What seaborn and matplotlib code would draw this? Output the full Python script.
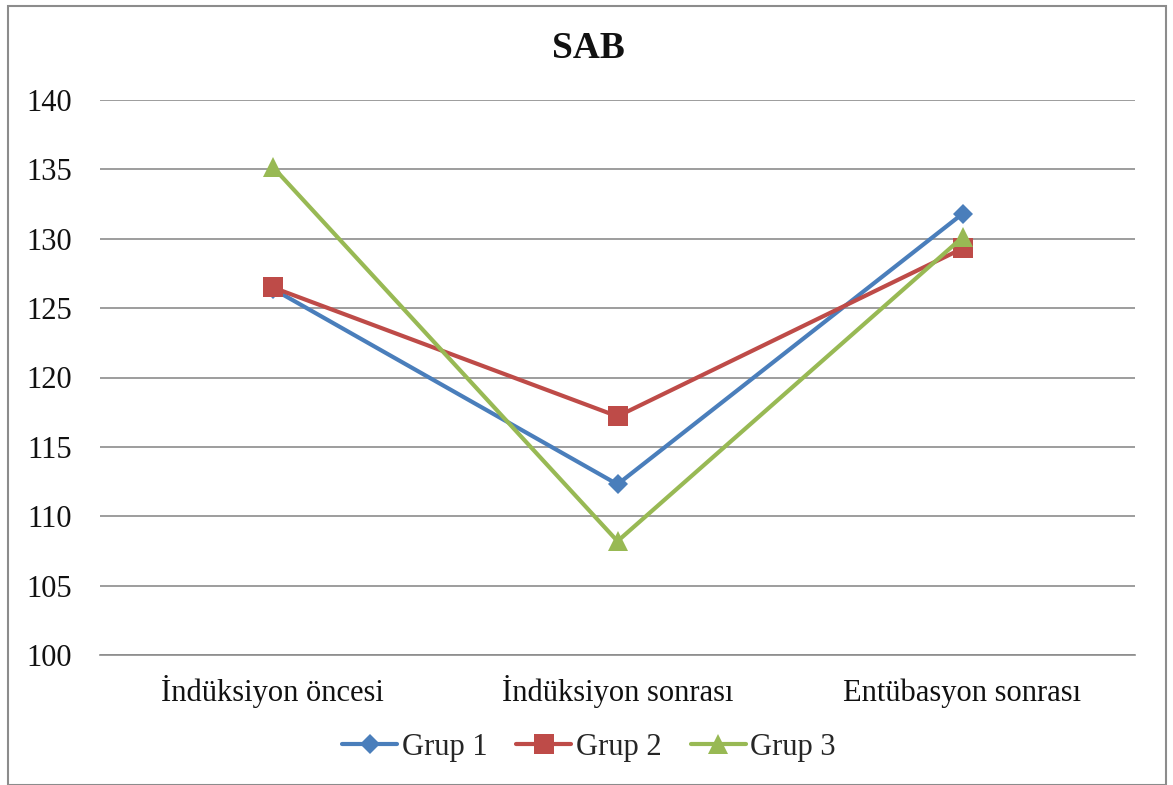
import matplotlib
matplotlib.use("Agg")
import matplotlib.pyplot as plt
from matplotlib.patches import Rectangle
import seaborn as sns
import pandas as pd

# Systolic blood pressure (SAB) by measurement stage
stages = ["İndüksiyon öncesi", "İndüksiyon sonrası", "Entübasyon sonrası"]
grup1 = [126.4, 112.3, 131.8]
grup2 = [126.5, 117.2, 129.3]
grup3 = [135.2, 108.2, 130.1]
groups = ["Grup 1", "Grup 2", "Grup 3"]
yticks = [100, 105, 110, 115, 120, 125, 130, 135, 140]

df = pd.DataFrame({
    "stage": stages * 3,
    "value": grup1 + grup2 + grup3,
    "group": [g for g in groups for _ in stages],
})

sns.set_theme(style="white")
plt.rcParams["font.family"] = ["Liberation Serif", "DejaVu Serif"]

fig = plt.figure(figsize=(11.73, 7.85), dpi=100)
W, H = 1173, 785
ax = fig.add_axes([100 / W, 1 - 655 / H, (1135 - 100) / W, (655 - 100) / H])

palette = {"Grup 1": "#4A7EBB", "Grup 2": "#BE4B48", "Grup 3": "#98B954"}
markers = {"Grup 1": "D", "Grup 2": "s", "Grup 3": "^"}
sizes = {"Grup 1": 10, "Grup 2": 14, "Grup 3": 14}

for g in groups:
    sub = df[df["group"] == g]
    sns.lineplot(data=sub, x="stage", y="value", ax=ax, color=palette[g],
                 marker=markers[g], markersize=sizes[g], markeredgewidth=0,
                 linewidth=3, label=g, sort=False)

ax.set_xlim(-0.5, 2.5)
ax.set_ylim(100, 140)
ax.set_yticks(yticks)
ax.set_yticklabels([str(t) for t in yticks])
ax.yaxis.grid(True, color="#8c8c8c", linewidth=1.2)
ax.set_axisbelow(True)
for s in ["left", "right", "top"]:
    ax.spines[s].set_visible(False)
ax.spines["bottom"].set_color("#8c8c8c")
ax.spines["bottom"].set_linewidth(1.2)
ax.tick_params(axis="y", labelsize=22, pad=20, length=0, colors="#111111")
ax.tick_params(axis="x", labelsize=22, pad=33, length=0, colors="#111111")
for lbl in ax.get_xticklabels():
    lbl.set_verticalalignment("baseline")
ax.set_xlabel("")
ax.set_ylabel("")

fig.text(588 / W, 1 - 48 / H, "SAB", ha="center", va="center",
         fontsize=27, fontweight="bold", color="#111111")

handles, labels = ax.get_legend_handles_labels()
ax.get_legend().remove()
fig.legend(handles, labels, loc="center", bbox_to_anchor=(589 / W, 1 - 747 / H),
           ncol=3, frameon=False, fontsize=22, handlelength=1.8,
           handletextpad=0.15, columnspacing=0.95)

fig.patches.append(Rectangle((8 / W, 0), (1166 - 8) / W, 1 - 6 / H,
                             transform=fig.transFigure, fill=False,
                             edgecolor="#8c8c8c", linewidth=1.5))

fig.savefig("out.png", dpi=100)
